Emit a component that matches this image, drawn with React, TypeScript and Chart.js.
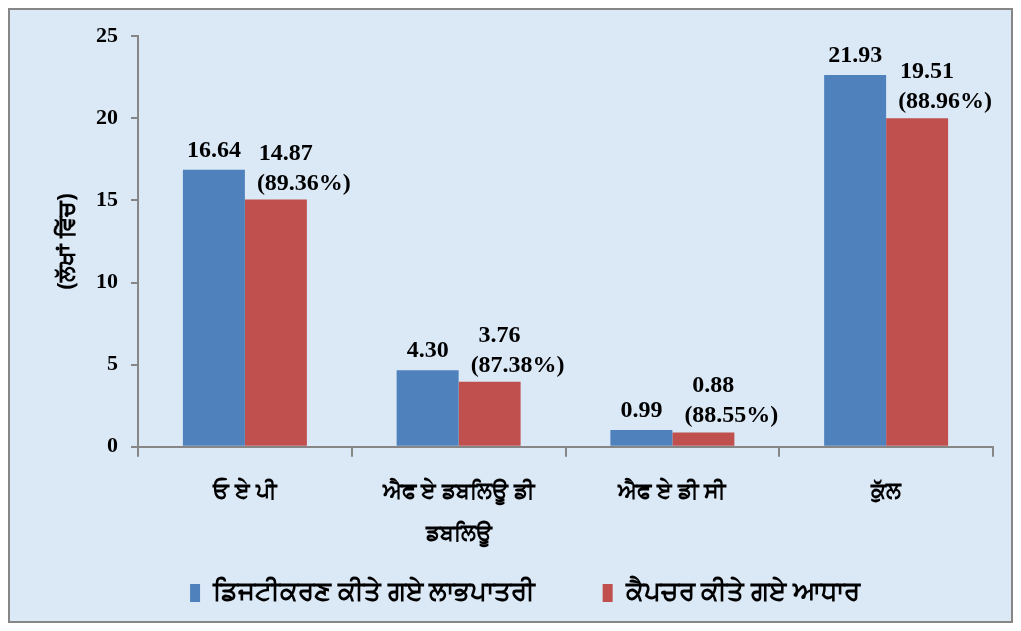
import React, { useEffect, useRef } from "react";
import { Chart, registerables } from "chart.js";

Chart.register(...registerables);

const categories: string[][] = [
  ["ਓ ਏ ਪੀ"],
  ["ਐਫ ਏ ਡਬਲਿਊ ਡੀ", "ਡਬਲਿਊ"],
  ["ਐਫ ਏ ਡੀ ਸੀ"],
  ["ਕੁੱਲ"],
];
const seriesNames = ["ਡਿਜਟੀਕਰਣ ਕੀਤੇ ਗਏ ਲਾਭਪਾਤਰੀ", "ਕੈਪਚਰ ਕੀਤੇ ਗਏ ਆਧਾਰ"];
const digitizedValues = [16.87, 4.66, 1.01, 22.64];
const capturedValues = [15.05, 3.95, 0.87, 20.0];
const digitizedLabels = ["16.64", "4.30", "0.99", "21.93"];
const capturedLabels = ["14.87", "3.76", "0.88", "19.51"];
const capturedPercent = ["(89.36%)", "(87.38%)", "(88.55%)", "(88.96%)"];
const yAxisTitle = "(ਲੱਖਾਂ ਵਿੱਚ)";
const yMin = 0;
const yMax = 25;
const yStep = 5;

const SERIF = "'Liberation Serif', 'Times New Roman', serif";
const GURMUKHI = "'Noto Sans', 'DejaVu Sans', sans-serif";
const AXIS_GREY = "#868686";

const barLabelPlugin = {
  id: "barLabels",
  afterDatasetsDraw(chart: any) {
    const ctx = chart.ctx;
    ctx.save();
    ctx.font = `bold 24px ${SERIF}`;
    ctx.fillStyle = "#000";
    ctx.textAlign = "center";
    ctx.textBaseline = "alphabetic";
    const m0 = chart.getDatasetMeta(0);
    m0.data.forEach((bar: any, i: number) => {
      ctx.fillText(digitizedLabels[i], bar.x, bar.y - 13);
    });
    const m1 = chart.getDatasetMeta(1);
    m1.data.forEach((bar: any, i: number) => {
      ctx.fillText(capturedLabels[i], bar.x + 10, bar.y - 40);
      ctx.fillText(capturedPercent[i], bar.x + 28, bar.y - 10);
    });
    ctx.restore();
  },
};

const yTitlePlugin = {
  id: "yTitle",
  afterDraw(chart: any) {
    const ctx = chart.ctx;
    const area = chart.chartArea;
    ctx.save();
    ctx.translate(57, (area.top + area.bottom) / 2);
    ctx.rotate(-Math.PI / 2);
    ctx.font = `bold 23px ${GURMUKHI}`;
    ctx.fillStyle = "#000";
    ctx.textAlign = "center";
    ctx.textBaseline = "middle";
    ctx.fillText(yAxisTitle, 0, 0);
    ctx.restore();
  },
};

export default function App() {
  const canvasRef = useRef<HTMLCanvasElement | null>(null);

  useEffect(() => {
    if (!canvasRef.current) return;
    const chart = new Chart(canvasRef.current, {
      type: "bar",
      data: {
        labels: categories,
        datasets: [
          {
            label: seriesNames[0],
            data: digitizedValues,
            backgroundColor: "#4f81bd",
            borderWidth: 0,
            categoryPercentage: 0.58,
            barPercentage: 1,
          },
          {
            label: seriesNames[1],
            data: capturedValues,
            backgroundColor: "#c0504d",
            borderWidth: 0,
            categoryPercentage: 0.58,
            barPercentage: 1,
          },
        ],
      },
      options: {
        animation: false,
        responsive: true,
        maintainAspectRatio: false,
        layout: { padding: { left: 47, top: 26, right: 18, bottom: 5 } },
        plugins: {
          tooltip: { enabled: false },
          legend: {
            position: "bottom",
            labels: {
              boxWidth: 10,
              boxHeight: 18,
              padding: 20,
              color: "#000",
              font: { size: 26, weight: "bold", family: GURMUKHI },
              generateLabels: (chart: any) => {
                const items = Chart.defaults.plugins.legend.labels.generateLabels(chart);
                return items.map((it: any, i: number) =>
                  i < items.length - 1 ? { ...it, text: it.text + "\u00A0".repeat(7) } : it
                );
              },
            },
          },
        },
        scales: {
          x: {
            offset: true,
            grid: {
              display: true,
              offset: true,
              drawOnChartArea: false,
              drawTicks: true,
              tickLength: 10,
              color: AXIS_GREY,
              lineWidth: 2,
            },
            border: { display: true, color: AXIS_GREY, width: 2 },
            ticks: {
              color: "#000",
              padding: 14,
              maxRotation: 0,
              autoSkip: false,
              font: { size: 22, weight: "bold", family: GURMUKHI, lineHeight: 1.9 },
            },
            afterFit: (scale: any) => {
              scale.height = 113.3;
            },
          },
          y: {
            min: yMin,
            max: yMax,
            grid: {
              display: true,
              drawOnChartArea: false,
              drawTicks: true,
              tickLength: 7,
              color: AXIS_GREY,
              lineWidth: 2,
            },
            border: { display: true, color: AXIS_GREY, width: 2 },
            ticks: {
              stepSize: yStep,
              color: "#000",
              padding: 13,
              font: { size: 22, weight: "bold", family: SERIF },
            },
            afterFit: (scale: any) => {
              scale.width = 81;
            },
          },
        },
      },
      plugins: [barLabelPlugin, yTitlePlugin],
    });
    return () => chart.destroy();
  }, []);

  return (
    <div
      style={{
        width: 1005,
        height: 615,
        boxSizing: "border-box",
        border: `2px solid ${AXIS_GREY}`,
        background: "#dbe8f6",
      }}
    >
      <div style={{ position: "relative", width: 1001, height: 611 }}>
        <canvas ref={canvasRef} />
      </div>
    </div>
  );
}
